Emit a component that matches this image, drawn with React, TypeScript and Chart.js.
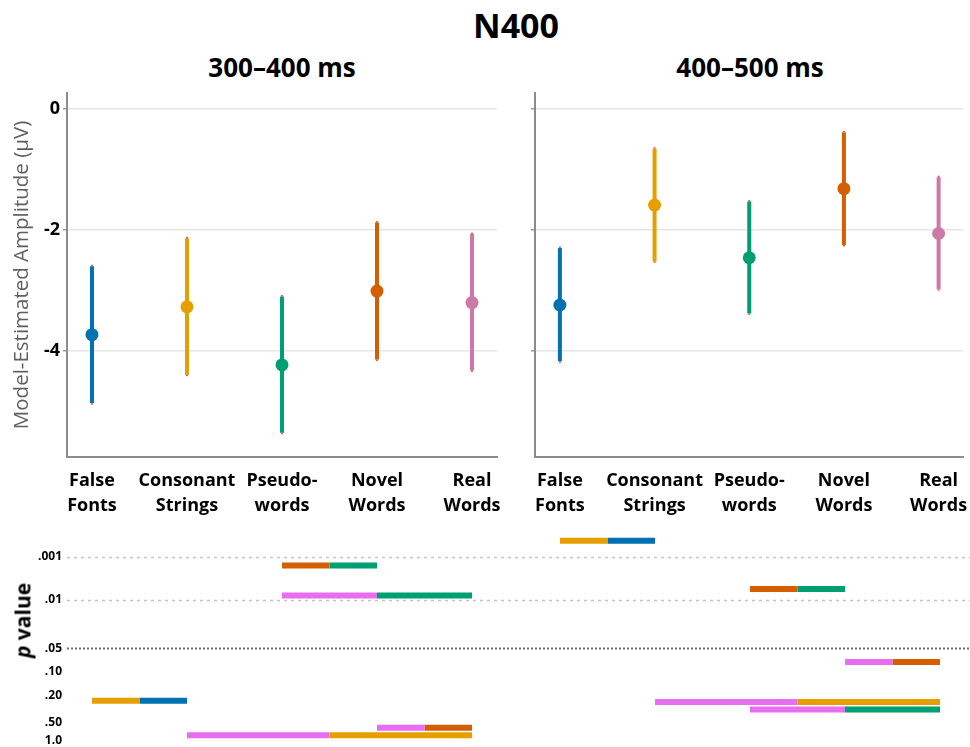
import React, { useEffect, useRef } from 'react';
import { Chart, registerables } from 'chart.js';
Chart.register(...registerables);

const FONT = "'Open Sans', 'Noto Sans', sans-serif";
Chart.defaults.font.family = FONT;

// ---------- data ----------
const categories: string[][] = [
  ['False', 'Fonts'],
  ['Consonant', 'Strings'],
  ['Pseudo-', 'words'],
  ['Novel', 'Words'],
  ['Real', 'Words'],
];
const categoryX = [1, 2, 3, 4, 5];
const conditionColors = ['#0072B2', '#E69F00', '#009E73', '#D55E00', '#CC79A7'];
const pairColors = ['#0072B2', '#E69F00', '#009E73', '#D55E00', '#E86EF0'];

// 300–400 ms: estimate, lower CI, upper CI
const est300 = [-3.73, -3.27, -4.23, -3.01, -3.2];
const lo300 = [-4.86, -4.39, -5.35, -4.14, -4.32];
const hi300 = [-2.6, -2.14, -3.1, -1.88, -2.07];
// 400–500 ms
const est400 = [-3.24, -1.59, -2.46, -1.32, -2.06];
const lo400 = [-4.17, -2.52, -3.38, -2.25, -2.98];
const hi400 = [-2.3, -0.66, -1.53, -0.39, -1.13];

const yTicks = [0, -2, -4];

// pairwise comparisons (1-based category indices) and p values
const pairA300 = [3, 3, 1, 4, 2];
const pairB300 = [4, 5, 2, 5, 5];
const pVal300 = [0.0016, 0.0079, 0.237, 0.61, 0.81];
const pairA400 = [1, 3, 4, 2, 3];
const pairB400 = [2, 4, 5, 5, 5];
const pVal400 = [0.00043, 0.0056, 0.075, 0.248, 0.32];

// p-value axis: tick labels and the (non-linear) axis anchor positions
const pTickValues = [1, 0.5, 0.2, 0.1, 0.05, 0.01, 0.001];
const pTickLabels = ['1.0', '.50', '.20', '.10', '.05', '.01', '.001'];
const pAxisPos = [0, 18, 45, 69, 92.4, 140.7, 184];

function pToPos(p: number): number {
  const lp = Math.log10(p);
  const lt = pTickValues.map((v) => Math.log10(v));
  for (let i = 0; i < lt.length - 1; i++) {
    if (lp <= lt[i] && lp >= lt[i + 1]) {
      const f = (lt[i] - lp) / (lt[i] - lt[i + 1]);
      return pAxisPos[i] + f * (pAxisPos[i + 1] - pAxisPos[i]);
    }
  }
  const n = lt.length - 1;
  if (lp < lt[n]) {
    const slope = (pAxisPos[n] - pAxisPos[n - 1]) / (lt[n - 1] - lt[n]);
    return pAxisPos[n] + (lt[n] - lp) * slope;
  }
  return 0;
}

// ---------- plugins ----------
const errorBarPlugin = {
  id: 'errbars',
  beforeDatasetsDraw(chart: any, _args: any, opts: any) {
    const { ctx } = chart;
    const x = chart.scales.x;
    const y = chart.scales.y;
    ctx.save();
    opts.lo.forEach((lo: number, i: number) => {
      const px = x.getPixelForValue(categoryX[i]);
      const y1 = y.getPixelForValue(lo);
      const y2 = y.getPixelForValue(opts.hi[i]);
      ctx.strokeStyle = conditionColors[i];
      ctx.lineWidth = 4;
      ctx.lineCap = 'butt';
      ctx.beginPath();
      ctx.moveTo(px, y1);
      ctx.lineTo(px, y2);
      ctx.stroke();
      ctx.fillStyle = 'rgba(225,60,60,0.85)';
      ctx.fillRect(px - 1, y2 - 1.5, 2, 1.5);
      ctx.fillRect(px - 1, y1, 2, 1.5);
    });
    ctx.restore();
  },
};

const pGridPlugin = {
  id: 'pgrid',
  beforeDatasetsDraw(chart: any) {
    const { ctx, chartArea } = chart;
    const y = chart.scales.y;
    const lines = [
      { p: 0.001, color: '#c4c4c4', w: 1.3, dash: [3, 4] },
      { p: 0.01, color: '#c4c4c4', w: 1.3, dash: [3, 4] },
      { p: 0.05, color: '#6e6e6e', w: 2, dash: [2, 2] },
    ];
    ctx.save();
    lines.forEach((l) => {
      const py = Math.round(y.getPixelForValue(pToPos(l.p))) + 0.5;
      ctx.strokeStyle = l.color;
      ctx.lineWidth = l.w;
      ctx.setLineDash(l.dash);
      ctx.beginPath();
      ctx.moveTo(chartArea.left, py);
      ctx.lineTo(chart.width, py);
      ctx.stroke();
    });
    ctx.restore();
  },
};

const noPad = (s: any) => {
  s.paddingLeft = 0;
  s.paddingRight = 0;
  s.paddingTop = 0;
  s.paddingBottom = 0;
};

// ---------- chart builders ----------
const X_MIN = 0.737;
const X_MAX = 5.263;

function makeTopChart(canvas: HTMLCanvasElement, est: number[], lo: number[], hi: number[], showLabels: boolean) {
  return new Chart(canvas, {
    type: 'scatter',
    data: {
      datasets: [
        {
          data: est.map((v, i) => ({ x: categoryX[i], y: v })),
          pointBackgroundColor: conditionColors,
          pointBorderColor: conditionColors,
          pointBorderWidth: 0,
          pointRadius: 6.5,
        },
      ],
    },
    options: {
      animation: false,
      responsive: false,
      maintainAspectRatio: false,
      layout: { padding: { top: 8, right: showLabels ? 13 : 5, left: 0, bottom: 0 } },
      plugins: {
        legend: { display: false },
        tooltip: { enabled: false },
        errbars: { lo, hi },
      } as any,
      scales: {
        x: {
          type: 'linear',
          min: X_MIN,
          max: X_MAX,
          afterBuildTicks: (s: any) => {
            s.ticks = categoryX.map((v) => ({ value: v }));
          },
          afterFit: (s: any) => {
            s.height = 63;
            noPad(s);
          },
          ticks: {
            callback: (v: any) => categories[Math.round(Number(v)) - 1],
            color: '#000',
            font: { size: 18, weight: 'bold', lineHeight: 1.35 },
            maxRotation: 0,
            autoSkip: false,
            padding: 12,
          },
          grid: { display: false, drawTicks: false },
          border: { display: true, color: '#8c8c8c', width: 2 },
        },
        y: {
          type: 'linear',
          min: -5.75,
          max: 0.26,
          afterBuildTicks: (s: any) => {
            s.ticks = yTicks.map((v) => ({ value: v }));
          },
          afterFit: (s: any) => {
            s.width = showLabels ? 67 : 15;
            noPad(s);
          },
          ticks: {
            display: showLabels,
            color: '#000',
            font: { size: 18, weight: 'bold' },
            padding: 3,
          },
          grid: { color: '#e6e6e6', lineWidth: 1.5, tickLength: 4, tickColor: '#9a9a9a' },
          border: { display: true, color: '#8c8c8c', width: 2 },
          title: {
            display: showLabels,
            text: 'Model-Estimated Amplitude (µV)',
            color: '#5f5f5f',
            font: { size: 20.5, weight: 'normal' },
            padding: { top: 10, bottom: 0 },
          },
        },
      },
    } as any,
    plugins: [errorBarPlugin],
  });
}

function makePChart(canvas: HTMLCanvasElement, pa: number[], pb: number[], pv: number[], showLabels: boolean, rightPad: number) {
  const datasets: any[] = [];
  pv.forEach((p, i) => {
    const a = categoryX[pa[i] - 1];
    const b = categoryX[pb[i] - 1];
    const mid = (a + b) / 2;
    const pos = pToPos(p);
    datasets.push({
      data: [{ x: a, y: pos }, { x: mid, y: pos }],
      borderColor: pairColors[pb[i] - 1],
      borderWidth: 6,
      borderCapStyle: 'butt',
      pointRadius: 0,
    });
    datasets.push({
      data: [{ x: mid, y: pos }, { x: b, y: pos }],
      borderColor: pairColors[pa[i] - 1],
      borderWidth: 6,
      borderCapStyle: 'butt',
      pointRadius: 0,
    });
  });
  return new Chart(canvas, {
    type: 'line',
    data: { datasets },
    options: {
      animation: false,
      responsive: false,
      maintainAspectRatio: false,
      layout: { padding: { top: 8, right: rightPad, left: 0, bottom: 2 } },
      plugins: { legend: { display: false }, tooltip: { enabled: false } },
      scales: {
        x: { type: 'linear', min: X_MIN, max: X_MAX, display: false },
        y: {
          type: 'linear',
          display: showLabels,
          min: -4.3,
          max: 207.7,
          afterBuildTicks: (s: any) => {
            s.ticks = pAxisPos.map((v) => ({ value: v }));
          },
          afterFit: (s: any) => {
            s.width = showLabels ? 67 : 0;
            noPad(s);
          },
          ticks: {
            callback: (_v: any, i: number) => pTickLabels[i],
            color: '#000',
            font: { size: 12, weight: 'bold' },
            padding: 5,
          },
          grid: { display: false, drawTicks: false },
          border: { display: false },
        },
      },
    } as any,
    plugins: [pGridPlugin],
  });
}

// ---------- component ----------
export default function App() {
  const c1 = useRef<HTMLCanvasElement>(null);
  const c2 = useRef<HTMLCanvasElement>(null);
  const c3 = useRef<HTMLCanvasElement>(null);
  const c4 = useRef<HTMLCanvasElement>(null);

  useEffect(() => {
    const charts = [
      makeTopChart(c1.current!, est300, lo300, hi300, true),
      makeTopChart(c2.current!, est400, lo400, hi400, false),
      makePChart(c3.current!, pairA300, pairB300, pVal300, true, 38),
      makePChart(c4.current!, pairA400, pairB400, pVal400, false, 5),
    ];
    return () => charts.forEach((c) => c.destroy());
  }, []);

  const abs = (l: number, t: number, w: number, h: number): React.CSSProperties => ({
    position: 'absolute',
    left: l,
    top: t,
    width: w,
    height: h,
  });

  const titleStyle: React.CSSProperties = {
    position: 'absolute',
    fontFamily: FONT,
    fontWeight: 700,
    textAlign: 'center',
    lineHeight: 1,
    color: '#000',
    whiteSpace: 'nowrap',
  };

  return (
    <div style={{ position: 'absolute', left: 0, top: 0, width: 970, height: 747, background: '#fff', overflow: 'hidden' }}>
      <div style={{ ...titleStyle, left: 366, top: 8, width: 300, fontSize: 34 }}>N400</div>
      <div style={{ ...titleStyle, left: 132, top: 54, width: 300, fontSize: 26 }}>300–400 ms</div>
      <div style={{ ...titleStyle, left: 600, top: 54, width: 300, fontSize: 26 }}>400–500 ms</div>
      <canvas ref={c1} width={510} height={435} style={abs(0, 85, 510, 435)} />
      <canvas ref={c2} width={450} height={435} style={abs(520, 85, 450, 435)} />
      <canvas ref={c3} width={535} height={222} style={abs(0, 525, 535, 222)} />
      <canvas ref={c4} width={435} height={222} style={abs(535, 525, 435, 222)} />
      <div
        style={{
          ...titleStyle,
          left: -37,
          top: 610,
          width: 120,
          fontSize: 21,
          transform: 'rotate(-90deg)',
        }}
      >
        <i>p</i> value
      </div>
    </div>
  );
}
